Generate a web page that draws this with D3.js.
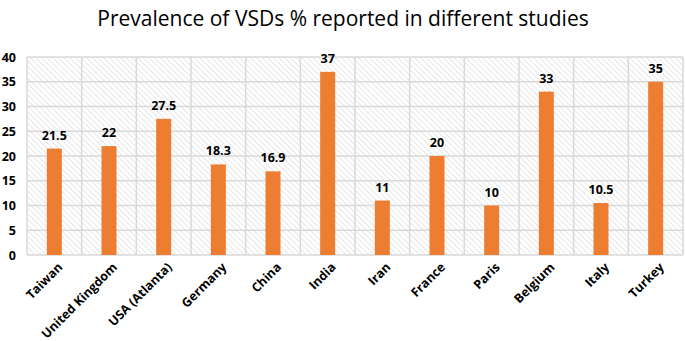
<!DOCTYPE html>
<html>
<head>
<meta charset="utf-8">
<script src="https://cdn.jsdelivr.net/npm/d3@7"></script>
<style>
  body { margin: 0; background: #fff; }
  text { font-family: "Open Sans", "Liberation Sans", sans-serif; }
</style>
</head>
<body>
<script>
// study locations and reported prevalence (%)
const countries = ["Taiwan", "United Kingdom", "USA (Atlanta)", "Germany", "China", "India",
                   "Iran", "France", "Paris", "Belgium", "Italy", "Turkey"];
const prevalence = [21.5, 22, 27.5, 18.3, 16.9, 37, 11, 20, 10, 33, 10.5, 35];
const yTicks = [0, 5, 10, 15, 20, 25, 30, 35, 40];

const width = 685, height = 341;
const margin = {top: 57, right: 2, bottom: 86, left: 27};

const svg = d3.select("body").append("svg")
    .attr("width", width)
    .attr("height", height);

// hatched background like the excel pattern fill
const defs = svg.append("defs");
const pat = defs.append("pattern")
    .attr("id", "hatch")
    .attr("patternUnits", "userSpaceOnUse")
    .attr("width", 4)
    .attr("height", 4)
    .attr("patternTransform", "rotate(-45)");
pat.append("rect").attr("width", 4).attr("height", 4).attr("fill", "#fff");
pat.append("line")
    .attr("x1", 0).attr("y1", 0).attr("x2", 0).attr("y2", 4)
    .attr("stroke", "#d6d6d6")
    .attr("stroke-width", 1.2);

const x = d3.scaleBand()
    .domain(countries)
    .range([margin.left, width - margin.right])
    .paddingInner(0)
    .paddingOuter(0);

const y = d3.scaleLinear()
    .domain([0, 40])
    .range([height - margin.bottom, margin.top]);

svg.append("text")
    .attr("x", 343)
    .attr("y", 26)
    .attr("text-anchor", "middle")
    .attr("font-size", 21)
    .attr("fill", "#000")
    .text("Prevalence of VSDs % reported in different studies");

svg.append("rect")
    .attr("x", margin.left)
    .attr("y", margin.top)
    .attr("width", x.range()[1] - margin.left)
    .attr("height", y(0) - margin.top)
    .attr("fill", "url(#hatch)");

// grid
svg.append("g")
    .selectAll("line.h")
    .data(yTicks)
    .join("line")
    .attr("x1", margin.left)
    .attr("x2", x.range()[1])
    .attr("y1", d => y(d))
    .attr("y2", d => y(d))
    .attr("stroke", "#d9d9d9")
    .attr("stroke-width", 1.5);

svg.append("g")
    .selectAll("line.v")
    .data(countries.concat(["__end"]))
    .join("line")
    .attr("x1", (d, i) => i < countries.length ? x(d) : x.range()[1])
    .attr("x2", (d, i) => i < countries.length ? x(d) : x.range()[1])
    .attr("y1", y(40))
    .attr("y2", y(0))
    .attr("stroke", "#d9d9d9")
    .attr("stroke-width", 1.5);

// y axis
const yAxis = svg.append("g")
    .attr("transform", "translate(" + margin.left + ",0)")
    .call(d3.axisLeft(y).tickValues(yTicks).tickSize(0).tickPadding(11));
yAxis.select(".domain").remove();
yAxis.selectAll("text")
    .attr("font-size", 12.5)
    .attr("font-weight", "bold")
    .attr("fill", "#000")
    .style("font-family", "'Open Sans', sans-serif");

// bars
const barW = 15;
svg.append("g")
    .selectAll("rect")
    .data(prevalence)
    .join("rect")
    .attr("x", (d, i) => x(countries[i]) + x.bandwidth() / 2 - barW / 2)
    .attr("y", d => y(d))
    .attr("width", barW)
    .attr("height", d => y(0) - y(d))
    .attr("fill", "#ed7d31");

// value labels
svg.append("g")
    .selectAll("text")
    .data(prevalence)
    .join("text")
    .attr("x", (d, i) => x(countries[i]) + x.bandwidth() / 2)
    .attr("y", d => y(d) - 9)
    .attr("text-anchor", "middle")
    .attr("font-size", 12.5)
    .attr("font-weight", "bold")
    .attr("fill", "#000")
    .text(d => d);

// x axis labels
const xAxis = svg.append("g")
    .attr("transform", "translate(0," + y(0) + ")")
    .call(d3.axisBottom(x).tickSize(0).tickPadding(0));
xAxis.select(".domain").remove();
xAxis.selectAll("text")
    .attr("font-size", 12.5)
    .attr("font-weight", "bold")
    .attr("fill", "#000")
    .style("font-family", "'Open Sans', sans-serif")
    .attr("text-anchor", "end")
    .attr("dy", 0)
    .attr("transform", "translate(9,13) rotate(-45)");
</script>
</body>
</html>
